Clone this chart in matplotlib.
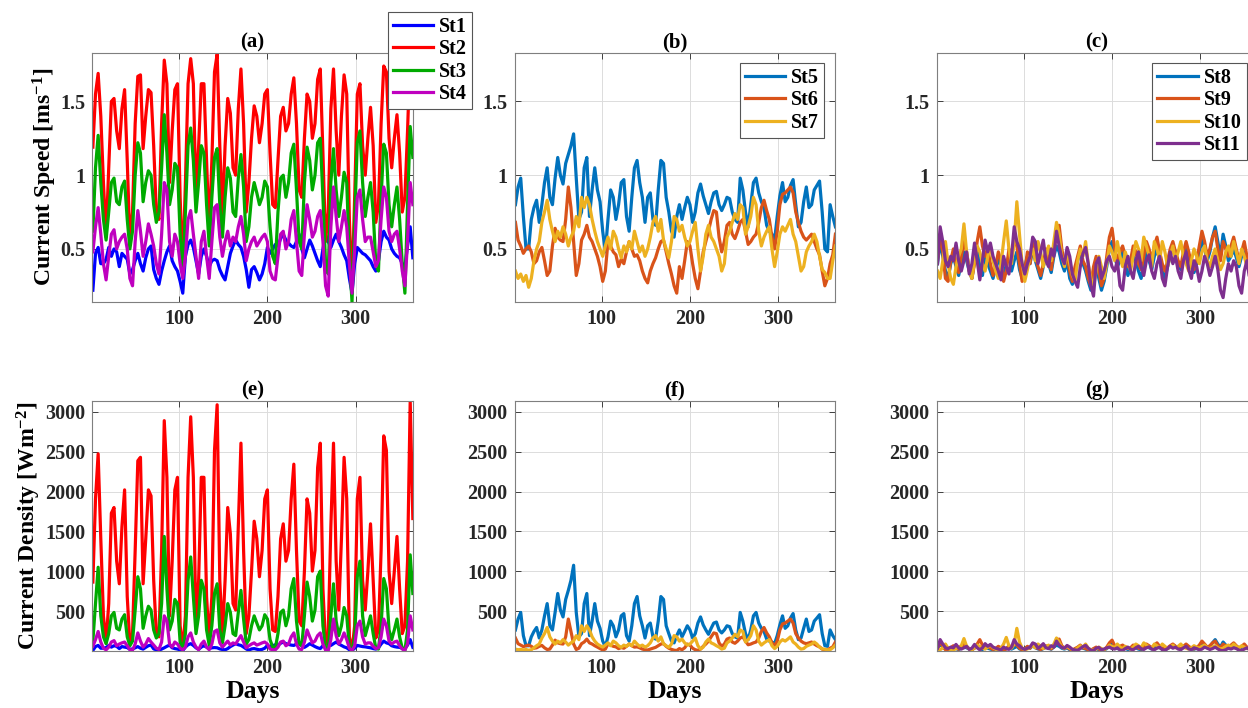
import numpy as np
import matplotlib
matplotlib.use('Agg')
import matplotlib.pyplot as plt

plt.rcParams['font.family'] = ['Liberation Serif', 'DejaVu Serif']
plt.rcParams['font.weight'] = 'bold'
plt.rcParams['mathtext.fontset'] = 'custom'
plt.rcParams['mathtext.rm'] = 'Liberation Serif:bold'
plt.rcParams['mathtext.bf'] = 'Liberation Serif:bold'
plt.rcParams['mathtext.default'] = 'bf'

# dias amostrados (a cada 3 dias)
dias = np.arange(2, 366, 3)

# velocidade da corrente [m/s] por estacao
st1 = [0.22, 0.47, 0.51, 0.40, 0.40, 0.43, 0.51, 0.45, 0.50, 0.48,
       0.38, 0.47, 0.45, 0.43, 0.33, 0.36, 0.42, 0.47, 0.40, 0.35,
       0.44, 0.50, 0.52, 0.36, 0.30, 0.26, 0.35, 0.42, 0.48, 0.52,
       0.42, 0.38, 0.35, 0.28, 0.20, 0.45, 0.53, 0.56, 0.51, 0.42,
       0.33, 0.45, 0.50, 0.45, 0.38, 0.42, 0.43, 0.42, 0.36, 0.32,
       0.29, 0.38, 0.47, 0.52, 0.56, 0.53, 0.51, 0.45, 0.36, 0.24,
       0.36, 0.38, 0.34, 0.29, 0.33, 0.40, 0.51, 0.47, 0.50, 0.53,
       0.52, 0.57, 0.60, 0.56, 0.54, 0.52, 0.51, 0.55, 0.60, 0.50,
       0.44, 0.50, 0.56, 0.52, 0.47, 0.42, 0.38, 0.50, 0.60, 0.55,
       0.51, 0.56, 0.60, 0.55, 0.51, 0.46, 0.42, 0.30, 0.20, 0.40,
       0.51, 0.49, 0.47, 0.46, 0.44, 0.42, 0.38, 0.35, 0.42, 0.55,
       0.62, 0.58, 0.56, 0.50, 0.47, 0.45, 0.44, 0.40, 0.38, 0.52,
       0.65, 0.44]
st2 = [1.19, 1.55, 1.69, 1.40, 0.95, 0.58, 1.05, 1.50, 1.52, 1.30,
       1.18, 1.45, 1.58, 1.10, 0.55, 0.75, 1.35, 1.67, 1.68, 1.18,
       1.40, 1.58, 1.56, 1.20, 0.75, 0.70, 1.35, 1.78, 1.62, 0.95,
       1.30, 1.58, 1.62, 0.85, 0.36, 0.95, 1.62, 1.79, 1.62, 0.85,
       1.20, 1.62, 1.62, 1.10, 0.60, 1.10, 1.70, 1.82, 1.20, 0.72,
       1.20, 1.52, 1.42, 1.05, 1.00, 1.45, 1.72, 1.35, 0.75, 0.95,
       1.25, 1.47, 1.40, 1.22, 1.35, 1.55, 1.58, 1.15, 0.80, 0.78,
       1.10, 1.40, 1.46, 1.30, 1.35, 1.55, 1.66, 1.35, 0.90, 0.85,
       1.25, 1.55, 1.50, 1.25, 1.35, 1.65, 1.72, 1.15, 0.55, 0.75,
       1.45, 1.72, 1.30, 1.00, 1.40, 1.68, 1.55, 0.70, 0.22, 0.85,
       1.55, 1.62, 1.20, 1.00, 1.25, 1.46, 1.20, 0.68, 0.80, 1.35,
       1.74, 1.70, 1.25, 1.05, 1.25, 1.41, 1.15, 0.75, 0.85, 1.30,
       1.83, 1.48]
st3 = [0.62, 1.05, 1.27, 0.95, 0.70, 0.56, 0.75, 0.95, 0.98, 0.82,
       0.80, 0.92, 0.96, 0.70, 0.50, 0.62, 1.00, 1.22, 1.15, 0.82,
       0.95, 1.03, 1.00, 0.80, 0.68, 0.75, 1.05, 1.41, 1.15, 0.80,
       0.90, 1.08, 1.05, 0.60, 0.35, 0.75, 1.20, 1.32, 1.10, 0.75,
       0.95, 1.20, 1.15, 0.80, 0.52, 0.85, 1.12, 1.18, 0.80, 0.58,
       0.85, 1.05, 0.98, 0.75, 0.72, 0.98, 1.14, 0.92, 0.55, 0.65,
       0.85, 0.95, 0.88, 0.80, 0.85, 0.96, 0.92, 0.65, 0.45, 0.40,
       0.75, 0.98, 1.00, 0.85, 0.95, 1.15, 1.21, 0.90, 0.55, 0.50,
       0.95, 1.19, 1.10, 0.90, 1.00, 1.22, 1.25, 0.85, 0.40, 0.33,
       0.95, 1.18, 0.90, 0.72, 0.85, 1.02, 0.95, 0.45, 0.14, 0.70,
       1.22, 1.30, 0.95, 0.72, 0.85, 0.95, 0.75, 0.40, 0.35, 0.85,
       1.21, 1.15, 0.80, 0.65, 0.80, 0.92, 0.70, 0.40, 0.20, 0.80,
       1.33, 1.12]
st4 = [0.48, 0.65, 0.78, 0.60, 0.40, 0.29, 0.45, 0.60, 0.63, 0.50,
       0.55, 0.58, 0.60, 0.50, 0.30, 0.25, 0.55, 0.76, 0.62, 0.45,
       0.55, 0.67, 0.60, 0.52, 0.40, 0.33, 0.60, 0.95, 0.90, 0.55,
       0.45, 0.60, 0.55, 0.40, 0.30, 0.45, 0.70, 0.76, 0.60, 0.45,
       0.30, 0.55, 0.62, 0.45, 0.30, 0.55, 0.78, 0.80, 0.58, 0.45,
       0.55, 0.62, 0.52, 0.58, 0.55, 0.65, 0.72, 0.60, 0.42, 0.50,
       0.55, 0.58, 0.52, 0.55, 0.58, 0.60, 0.55, 0.35, 0.30, 0.29,
       0.45, 0.60, 0.62, 0.50, 0.55, 0.70, 0.76, 0.55, 0.35, 0.32,
       0.60, 0.80, 0.70, 0.58, 0.62, 0.72, 0.76, 0.55, 0.25, 0.18,
       0.65, 0.92, 0.72, 0.55, 0.65, 0.76, 0.65, 0.40, 0.20, 0.50,
       0.85, 0.90, 0.70, 0.55, 0.58, 0.58, 0.48, 0.38, 0.42, 0.70,
       0.92, 0.85, 0.62, 0.55, 0.60, 0.62, 0.50, 0.35, 0.25, 0.55,
       0.95, 0.80]
st5 = [0.80, 0.92, 0.98, 0.72, 0.50, 0.50, 0.70, 0.78, 0.83, 0.68,
       0.80, 0.95, 1.05, 0.85, 0.80, 0.98, 1.12, 1.00, 0.94, 1.08,
       1.14, 1.20, 1.28, 0.98, 0.70, 0.75, 1.05, 1.12, 0.72, 0.90,
       1.05, 0.90, 0.82, 0.62, 0.48, 0.70, 0.90, 0.85, 0.70, 0.80,
       0.95, 0.97, 0.72, 0.62, 0.85, 1.05, 1.10, 0.95, 0.85, 0.68,
       0.85, 0.88, 0.70, 0.66, 0.90, 1.10, 1.08, 0.85, 0.75, 0.62,
       0.58, 0.72, 0.80, 0.70, 0.78, 0.85, 0.80, 0.68, 0.75, 0.88,
       0.94, 0.86, 0.80, 0.74, 0.82, 0.88, 0.89, 0.80, 0.76, 0.80,
       0.85, 0.84, 0.75, 0.70, 0.68, 0.98, 0.90, 0.75, 0.65, 0.80,
       0.95, 0.98, 0.88, 0.82, 0.78, 0.66, 0.62, 0.60, 0.56, 0.72,
       0.86, 0.95, 0.82, 0.85, 0.93, 0.97, 0.80, 0.65, 0.68, 0.82,
       0.92, 0.78, 0.80, 0.90, 0.93, 0.96, 0.75, 0.50, 0.48, 0.80,
       0.72, 0.65]
st6 = [0.68, 0.56, 0.52, 0.47, 0.50, 0.52, 0.48, 0.40, 0.42, 0.48,
       0.51, 0.42, 0.32, 0.35, 0.52, 0.64, 0.58, 0.56, 0.55, 0.70,
       0.92, 0.78, 0.55, 0.32, 0.40, 0.56, 0.60, 0.66, 0.58, 0.55,
       0.50, 0.45, 0.38, 0.28, 0.35, 0.55, 0.52, 0.48, 0.46, 0.38,
       0.43, 0.40, 0.48, 0.55, 0.50, 0.45, 0.46, 0.42, 0.35, 0.30,
       0.27, 0.35, 0.40, 0.44, 0.50, 0.55, 0.56, 0.48, 0.40, 0.33,
       0.25, 0.20, 0.38, 0.30, 0.42, 0.55, 0.52, 0.40, 0.30, 0.23,
       0.35, 0.48, 0.55, 0.62, 0.70, 0.76, 0.75, 0.58, 0.48, 0.55,
       0.66, 0.68, 0.60, 0.57, 0.62, 0.68, 0.70, 0.62, 0.53, 0.55,
       0.58, 0.60, 0.68, 0.78, 0.83, 0.76, 0.70, 0.58, 0.50, 0.62,
       0.80, 0.87, 0.88, 0.90, 0.92, 0.88, 0.75, 0.68, 0.62, 0.58,
       0.56, 0.58, 0.60, 0.55, 0.50, 0.46, 0.35, 0.25, 0.30, 0.40,
       0.46, 0.60]
st7 = [0.35, 0.30, 0.33, 0.28, 0.32, 0.24, 0.30, 0.42, 0.50, 0.55,
       0.68, 0.75, 0.83, 0.70, 0.62, 0.55, 0.62, 0.58, 0.65, 0.60,
       0.52, 0.58, 0.62, 0.72, 0.65, 0.85, 0.78, 0.85, 0.80, 0.70,
       0.62, 0.55, 0.50, 0.45, 0.52, 0.58, 0.50, 0.62, 0.58, 0.50,
       0.44, 0.52, 0.48, 0.55, 0.50, 0.62, 0.55, 0.48, 0.52, 0.45,
       0.50, 0.58, 0.68, 0.72, 0.62, 0.70, 0.56, 0.50, 0.44, 0.55,
       0.72, 0.70, 0.62, 0.66, 0.58, 0.52, 0.55, 0.62, 0.68, 0.50,
       0.35, 0.45, 0.60, 0.66, 0.58, 0.55, 0.50, 0.45, 0.35, 0.40,
       0.58, 0.62, 0.68, 0.74, 0.70, 0.80, 0.78, 0.60, 0.65, 0.72,
       0.85, 0.80, 0.62, 0.52, 0.58, 0.62, 0.65, 0.50, 0.38, 0.48,
       0.60, 0.65, 0.62, 0.66, 0.70, 0.60, 0.55, 0.45, 0.35, 0.38,
       0.48, 0.52, 0.55, 0.60, 0.55, 0.45, 0.36, 0.34, 0.30, 0.30,
       0.42, 0.52]
st8 = [0.40, 0.55, 0.45, 0.35, 0.30, 0.40, 0.45, 0.38, 0.32, 0.40,
       0.48, 0.42, 0.35, 0.30, 0.42, 0.50, 0.38, 0.32, 0.45, 0.40,
       0.35, 0.30, 0.38, 0.44, 0.36, 0.30, 0.40, 0.45, 0.35, 0.42,
       0.48, 0.36, 0.30, 0.38, 0.45, 0.40, 0.50, 0.42, 0.36, 0.30,
       0.38, 0.45, 0.40, 0.34, 0.45, 0.52, 0.48, 0.40, 0.35, 0.42,
       0.30, 0.26, 0.35, 0.42, 0.48, 0.40, 0.35, 0.28, 0.22, 0.35,
       0.40, 0.30, 0.22, 0.28, 0.38, 0.50, 0.55, 0.45, 0.38, 0.42,
       0.48, 0.40, 0.32, 0.38, 0.45, 0.42, 0.35, 0.30, 0.40, 0.48,
       0.42, 0.36, 0.45, 0.50, 0.42, 0.35, 0.30, 0.38, 0.45, 0.52,
       0.48, 0.40, 0.36, 0.45, 0.52, 0.44, 0.38, 0.34, 0.40, 0.48,
       0.56, 0.50, 0.42, 0.48, 0.58, 0.65, 0.55, 0.45, 0.60, 0.52,
       0.42, 0.45, 0.50, 0.44, 0.38, 0.45, 0.48, 0.40, 0.42, 0.38,
       0.45, 0.42]
st9 = [0.42, 0.60, 0.48, 0.30, 0.28, 0.42, 0.50, 0.40, 0.34, 0.45,
       0.55, 0.48, 0.36, 0.30, 0.40, 0.55, 0.65, 0.52, 0.45, 0.50,
       0.40, 0.32, 0.38, 0.48, 0.42, 0.28, 0.35, 0.50, 0.45, 0.55,
       0.52, 0.40, 0.28, 0.35, 0.48, 0.40, 0.55, 0.45, 0.38, 0.32,
       0.40, 0.50, 0.42, 0.36, 0.48, 0.62, 0.66, 0.50, 0.40, 0.45,
       0.35, 0.28, 0.38, 0.45, 0.52, 0.42, 0.38, 0.30, 0.25, 0.38,
       0.45, 0.35, 0.25, 0.30, 0.45, 0.58, 0.64, 0.50, 0.42, 0.48,
       0.52, 0.45, 0.38, 0.42, 0.52, 0.48, 0.40, 0.36, 0.45, 0.55,
       0.50, 0.42, 0.52, 0.58, 0.48, 0.40, 0.35, 0.42, 0.50, 0.55,
       0.48, 0.42, 0.38, 0.48, 0.55, 0.48, 0.40, 0.36, 0.42, 0.52,
       0.62, 0.55, 0.45, 0.50, 0.58, 0.62, 0.50, 0.42, 0.55, 0.50,
       0.45, 0.52, 0.58, 0.50, 0.42, 0.48, 0.55, 0.45, 0.40, 0.45,
       0.50, 0.45]
st10 = [0.35, 0.30, 0.42, 0.55, 0.40, 0.30, 0.26, 0.38, 0.45, 0.50,
        0.67, 0.48, 0.35, 0.30, 0.42, 0.52, 0.48, 0.40, 0.35, 0.45,
        0.52, 0.42, 0.35, 0.30, 0.40, 0.55, 0.69, 0.50, 0.40, 0.55,
        0.82, 0.60, 0.40, 0.28, 0.36, 0.45, 0.50, 0.42, 0.55, 0.48,
        0.38, 0.45, 0.52, 0.42, 0.55, 0.68, 0.60, 0.45, 0.38, 0.48,
        0.40, 0.32, 0.28, 0.42, 0.50, 0.45, 0.55, 0.40, 0.30, 0.25,
        0.35, 0.45, 0.38, 0.30, 0.40, 0.52, 0.48, 0.42, 0.55, 0.45,
        0.38, 0.48, 0.42, 0.35, 0.45, 0.55, 0.50, 0.42, 0.58, 0.52,
        0.45, 0.38, 0.55, 0.50, 0.42, 0.55, 0.48, 0.38, 0.45, 0.52,
        0.42, 0.48, 0.55, 0.45, 0.40, 0.35, 0.42, 0.50, 0.45, 0.40,
        0.48, 0.52, 0.42, 0.38, 0.45, 0.50, 0.42, 0.36, 0.40, 0.48,
        0.52, 0.45, 0.55, 0.48, 0.40, 0.50, 0.45, 0.38, 0.42, 0.35,
        0.40, 0.38]
st11 = [0.40, 0.65, 0.55, 0.42, 0.38, 0.45, 0.42, 0.54, 0.42, 0.35,
        0.42, 0.48, 0.33, 0.40, 0.54, 0.42, 0.29, 0.42, 0.56, 0.48,
        0.54, 0.45, 0.40, 0.35, 0.29, 0.45, 0.38, 0.33, 0.45, 0.65,
        0.55, 0.50, 0.40, 0.33, 0.40, 0.45, 0.58, 0.55, 0.40, 0.48,
        0.56, 0.42, 0.38, 0.50, 0.45, 0.62, 0.52, 0.44, 0.40, 0.51,
        0.45, 0.33, 0.28, 0.24, 0.38, 0.47, 0.51, 0.40, 0.25, 0.18,
        0.40, 0.44, 0.30, 0.35, 0.42, 0.45, 0.38, 0.35, 0.42, 0.25,
        0.22, 0.38, 0.45, 0.35, 0.30, 0.42, 0.48, 0.38, 0.32, 0.42,
        0.46, 0.35, 0.30, 0.40, 0.45, 0.30, 0.25, 0.38, 0.48, 0.40,
        0.45, 0.35, 0.30, 0.42, 0.48, 0.36, 0.30, 0.42, 0.38, 0.28,
        0.35, 0.45, 0.40, 0.32, 0.38, 0.45, 0.36, 0.22, 0.17, 0.30,
        0.40, 0.35, 0.42, 0.38, 0.25, 0.20, 0.35, 0.42, 0.30, 0.38,
        0.35, 0.40]

grupos = [
    (['St1', 'St2', 'St3', 'St4'], [st1, st2, st3, st4],
     ['#0000ff', '#ff0000', '#00aa00', '#bf00bf']),
    (['St5', 'St6', 'St7'], [st5, st6, st7],
     ['#0072bd', '#d95319', '#edb120']),
    (['St8', 'St9', 'St10', 'St11'], [st8, st9, st10, st11],
     ['#0072bd', '#d95319', '#edb120', '#7e2f8e']),
]

rho = 1025.0  # densidade da agua do mar [kg/m3]

todas_v = np.concatenate([np.array(s) for _, series, _ in grupos for s in series])
todas_p = 0.5 * rho * todas_v ** 3

fig = plt.figure(figsize=(12.48, 7.08), dpi=100)

lefts = [0.0737, 0.4123, 0.7505]
largura = 0.2571
letras_top = ['(a)', '(b)', '(c)']
letras_bot = ['(e)', '(f)', '(g)']


def estilo(ax):
    ax.grid(True, color='#dcdcdc', linewidth=0.7)
    ax.set_axisbelow(True)
    ax.tick_params(direction='in', length=4, width=0.6, labelsize=14.5,
                   colors='#262626', top=True, right=True, pad=5)
    for sp in ax.spines.values():
        sp.set_color('#7f7f7f')
        sp.set_linewidth(0.8)
    ax.set_xlim(1, 365)
    ax.set_xticks([100, 200, 300])


for k, (nomes, series, cores) in enumerate(grupos):
    ax1 = fig.add_axes([lefts[k], 0.5734, largura, 0.3521])
    ax2 = fig.add_axes([lefts[k], 0.0809, largura, 0.3531])
    for nome, s, c in zip(nomes, series, cores):
        v = np.array(s)
        ax1.plot(dias, v, color=c, linewidth=2.3, label=nome)
        ax2.plot(dias, 0.5 * rho * v ** 3, color=c, linewidth=2.3)
    estilo(ax1)
    estilo(ax2)
    ax1.set_ylim(todas_v.min(), todas_v.max())
    ax1.set_yticks([0.5, 1.0, 1.5])
    ax1.set_yticklabels(['0.5', '1', '1.5'])
    ax2.set_ylim(todas_p.min(), todas_p.max())
    ax2.set_yticks([500, 1000, 1500, 2000, 2500, 3000])
    ax1.set_title(letras_top[k], fontsize=15, fontweight='bold', pad=4)
    ax2.set_title(letras_bot[k], fontsize=15, fontweight='bold', pad=4)
    ax2.set_xlabel('Days', fontsize=18.5, fontweight='bold', labelpad=2)

    if k == 0:
        ax1.set_ylabel('Current Speed [ms$^{-1}$]', fontsize=17, fontweight='bold', labelpad=1)
        ax2.set_ylabel('Current Density [Wm$^{-2}$]', fontsize=17, fontweight='bold', labelpad=1)
        anc = (388 / 1248, 1 - 12 / 708)
        loc = 'upper left'
    elif k == 1:
        anc = (824 / 1248, 1 - 62.7 / 708)
        loc = 'upper right'
    else:
        anc = (1246.7 / 1248, 1 - 62.7 / 708)
        loc = 'upper right'
    leg = ax1.legend(loc=loc, bbox_to_anchor=anc, bbox_transform=fig.transFigure,
                     fontsize=14.5, handlelength=2.0, handletextpad=0.3,
                     labelspacing=0.12, borderpad=0.25, borderaxespad=0,
                     fancybox=False, framealpha=1)
    leg.get_frame().set_edgecolor('#555555')
    leg.get_frame().set_linewidth(0.8)
    for t in leg.get_texts():
        t.set_fontweight('bold')

fig.savefig('out.png', dpi=100)
